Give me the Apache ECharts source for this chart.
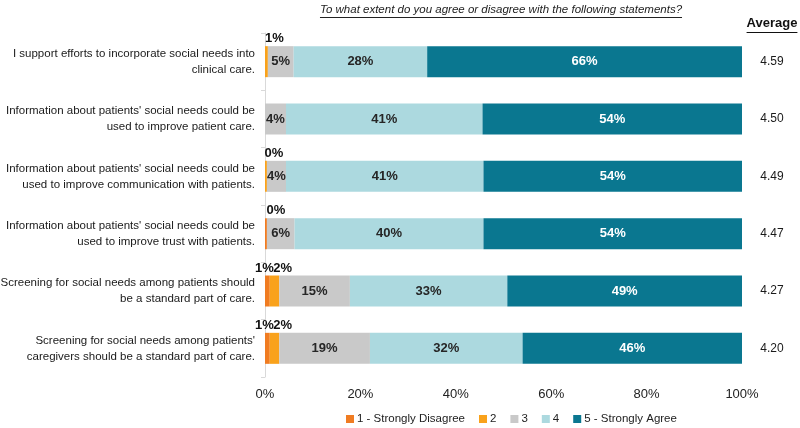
<!DOCTYPE html>
<html>
<head>
<meta charset="utf-8">
<script src="https://cdn.jsdelivr.net/npm/echarts@6/dist/echarts.min.js"></script>
<style>html,body{margin:0;padding:0;background:#fff}#c{width:800px;height:428px}</style>
</head>
<body>
<div id="c"></div>
<script>
const categories = [
  "I support efforts to incorporate social needs into\nclinical care.",
  "Information about patients' social needs could be\nused to improve patient care.",
  "Information about patients' social needs could be\nused to improve communication with patients.",
  "Information about patients' social needs could be\nused to improve trust with patients.",
  "Screening for social needs among patients should\nbe a standard part of care.",
  "Screening for social needs among patients'\ncaregivers should be a standard part of care."
];
const seriesNames = ["1 - Strongly Disagree", "2", "3", "4", "5 - Strongly Agree"];
const s1 = [0, 0, 0, 0.4, 1, 1];
const s2 = [0.6, 0, 0.4, 0, 2, 2];
const s3 = [5.4, 4.4, 4.0, 5.8, 14.8, 19];
const s4 = [28, 41.2, 41.4, 39.6, 33.0, 32];
const s5 = [66, 54.4, 54.2, 54.2, 49.2, 46];
const averages = ["4.59", "4.50", "4.49", "4.47", "4.27", "4.20"];
const xTicks = [0, 20, 40, 60, 80, 100];
const titleText = "To what extent do you agree or disagree with the following statements?";

const colors = ["#F07C22", "#F9A21B", "#C9C9C9", "#ACD9DF", "#0A7790"];
const values = [s1, s2, s3, s4, s5];
const FONT = "Liberation Sans, Arial, sans-serif";

function smallLabelOffset(si, i) {
  if (si === 1) return [8, 0];
  return s2[i] > 0 ? [-3, 0] : [10, 0];
}

const series = values.map((arr, si) => ({
  name: seriesNames[si],
  type: 'bar',
  stack: 'total',
  barWidth: 31,
  itemStyle: { color: colors[si] },
  data: arr.map((v, i) => {
    if (si < 2) {
      return {
        value: v,
        label: {
          show: v > 0,
          position: 'top',
          distance: 1,
          offset: smallLabelOffset(si, i),
          color: '#111',
          fontWeight: 'bold',
          fontSize: 13,
          fontFamily: FONT,
          formatter: p => Math.round(p.value) + '%'
        }
      };
    }
    return {
      value: v,
      label: {
        show: true,
        position: 'inside',
        color: si === 4 ? '#ffffff' : '#262626',
        fontWeight: 'bold',
        fontSize: 13,
        fontFamily: FONT,
        formatter: p => Math.round(p.value) + '%'
      }
    };
  })
}));

const ctxMeasure = document.createElement('canvas').getContext('2d');
ctxMeasure.font = 'italic 11.5px ' + FONT;
const tw = ctxMeasure.measureText(titleText).width;
const tcx = 501;
ctxMeasure.font = 'bold 13px ' + FONT;
const aw = ctxMeasure.measureText('Average').width;

const chart = echarts.init(document.getElementById('c'), null, { renderer: 'canvas' });
chart.setOption({
  animation: false,
  color: colors,
  grid: { left: 265, right: 58, top: 33, bottom: 51, containLabel: false, outerBoundsMode: 'none' },
  xAxis: {
    type: 'value',
    min: 0, max: 100, interval: 20,
    axisLine: { show: false },
    axisTick: { show: false },
    splitLine: { show: false },
    axisLabel: {
      color: '#222', fontSize: 13, fontFamily: FONT, margin: 11,
      formatter: v => xTicks.includes(v) ? v + '%' : ''
    }
  },
  yAxis: [{
    type: 'category',
    data: categories,
    inverse: true,
    axisLine: { show: true, lineStyle: { color: '#D9D9D9', width: 1 } },
    axisTick: { show: true, length: 4, lineStyle: { color: '#D9D9D9' } },
    axisLabel: {
      color: '#1a1a1a', fontSize: 11.5, fontFamily: FONT, margin: 10,
      align: 'right', lineHeight: 16
    }
  }, {
    type: 'category',
    data: averages,
    inverse: true,
    position: 'right',
    axisLine: { show: false },
    axisTick: { show: false },
    axisLabel: {
      color: '#1a1a1a', fontSize: 12, fontFamily: FONT, margin: 30, align: 'center'
    }
  }],
  legend: {
    data: seriesNames,
    left: 346, top: 413, padding: 0,
    icon: 'rect', itemWidth: 8, itemHeight: 8, itemGap: 14,
    textStyle: { color: '#222', fontSize: 11.5, fontFamily: FONT, padding: [0, 0, 0, -2] }
  },
  graphic: [
    { type: 'text', left: tcx - tw / 2, top: 4, style: { text: titleText, font: 'italic 11.5px ' + FONT, fill: '#222' } },
    { type: 'line', shape: { x1: tcx - tw / 2, y1: 17.5, x2: tcx + tw / 2, y2: 17.5 }, style: { stroke: '#222', lineWidth: 1 } },
    { type: 'text', left: 772 - aw / 2, top: 17, style: { text: 'Average', font: 'bold 13px ' + FONT, fill: '#111' } },
    { type: 'line', shape: { x1: 772 - aw / 2, y1: 32.5, x2: 772 + aw / 2, y2: 32.5 }, style: { stroke: '#111', lineWidth: 1 } }
  ],
  series: series
});
</script>
</body>
</html>
